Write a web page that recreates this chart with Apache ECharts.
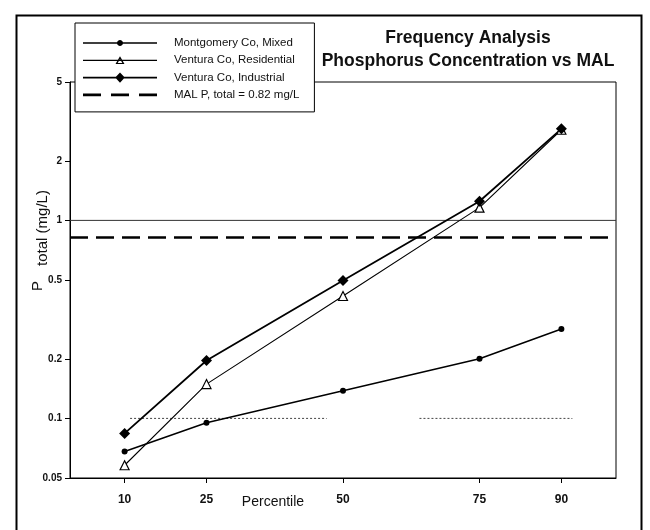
<!DOCTYPE html>
<html>
<head>
<meta charset="utf-8">
<script src="https://cdn.jsdelivr.net/npm/echarts@6/dist/echarts.min.js"></script>
<style>
html,body{margin:0;padding:0;background:#fff;}
#chart{width:650px;height:530px;}
</style>
</head>
<body>
<div id="chart"></div>
<script>
// ---- data ----
var percentiles = [10, 25, 50, 75, 90];
var mixed       = [0.068, 0.095, 0.138, 0.200, 0.283];
var residential = [0.058, 0.149, 0.415, 1.16, 2.87];
var industrial  = [0.084, 0.196, 0.497, 1.25, 2.90];
var malValue = 0.82;
var refValue = 1.0;
var dotValue = 0.1;
var dotSegA = [11, 47];
var dotSegB = [64, 92];
var xRange = [0, 100];
var xTickValues = [10, 25, 50, 75, 90];
var yTickValues = [0.05, 0.1, 0.2, 0.5, 1, 2, 5];
var seriesNames = ['Montgomery Co, Mixed', 'Ventura Co, Residential', 'Ventura Co, Industrial', 'MAL P, total = 0.82 mg/L'];

function pairs(xs, ys){ return xs.map(function(x,i){ return [x, ys[i]]; }); }
function hline(xs, v){ return [[xs[0], v], [xs[1], v]]; }

// legend icon shapes (74 x 12 box)
function polyCircle(cx, cy, r, n){
  var s = '';
  for (var k = 0; k < n; k++){
    var a = 2 * Math.PI * k / n;
    s += (k === 0 ? 'M' : 'L') + (cx + r * Math.cos(a)).toFixed(2) + ',' + (cy + r * Math.sin(a)).toFixed(2);
  }
  return s + 'Z';
}
var BOX = 'M0,0L74,0M0,12L74,12';
var iconMixed = 'path://' + BOX + 'M0,5.3h74v1.4h-74z' + polyCircle(37, 6, 3, 16);
var iconRes = 'path://' + BOX + 'M0,5.4h74v1.2h-74zM37,2L41.5,9.8L32.5,9.8ZM37,4.7L34.7,8.7L39.3,8.7Z';
var iconInd = 'path://' + BOX + 'M0,5.2h74v1.6h-74zM37,0.8L41.8,6L37,11.2L32.2,6Z';
var iconMal = 'path://' + BOX + 'M0,4.6h18v2.8h-18zM28,4.6h18v2.8h-18zM56,4.6h18v2.8h-18z';
var legendIcons = [iconMixed, iconRes, iconInd, iconMal];

var FONT = 'Liberation Sans, Arial, sans-serif';
var chart = echarts.init(document.getElementById('chart'), null, {renderer:'canvas'});
var option = {
  backgroundColor: '#fff',
  animation: false,
  title: {
    text: 'Frequency Analysis\nPhosphorus Concentration vs MAL',
    left: 463, top: 22, textAlign: 'center',
    textStyle: {fontFamily: FONT, fontSize: 17.5, fontWeight: 'bold', color: '#111', lineHeight: 23}
  },
  legend: {
    data: seriesNames.map(function(n, i){
      return {name: n, icon: legendIcons[i], itemStyle: {color: '#000', borderWidth: 0, borderColor: 'transparent'}};
    }),
    orient: 'vertical',
    left: 75, top: 23,
    padding: [14, 15, 11, 8],
    itemWidth: 74, itemHeight: 12, itemGap: 5.3,
    backgroundColor: '#fff',
    borderColor: '#000', borderWidth: 1,
    textStyle: {fontFamily: FONT, fontSize: 11.5, color: '#111', padding: [0,0,0,12]},
    z: 10
  },
  grid: {left: 70, right: 34, top: 82, bottom: 52, show: true, borderColor: '#000', borderWidth: 1, backgroundColor: 'transparent'},
  xAxis: {
    type: 'value', min: xRange[0], max: xRange[1],
    axisLine: {show: true, lineStyle: {color: '#000', width: 1}},
    axisTick: {show: true, customValues: xTickValues, length: 5, lineStyle: {color: '#000'}},
    axisLabel: {customValues: xTickValues, margin: 16, fontFamily: FONT, fontSize: 12, fontWeight: 'bold', color: '#111'},
    splitLine: {show: false}
  },
  yAxis: {
    type: 'log', logBase: 10, min: yTickValues[0], max: yTickValues[yTickValues.length-1],
    axisLine: {show: true, lineStyle: {color: '#000', width: 1}},
    axisTick: {show: true, customValues: yTickValues, length: 5, lineStyle: {color: '#000'}},
    axisLabel: {customValues: yTickValues, margin: 8, fontFamily: FONT, fontSize: 10, fontWeight: 'bold', color: '#111',
      formatter: function(v){ return String(+Number(v).toPrecision(3)); }},
    splitLine: {show: false}
  },
  series: [
    {name: seriesNames[0], type: 'line', data: pairs(percentiles, mixed),
     symbol: 'circle', symbolSize: 6, itemStyle: {color: '#000'}, lineStyle: {color: '#000', width: 1.5}, z: 5},
    {name: seriesNames[1], type: 'line', data: pairs(percentiles, residential),
     symbol: 'triangle', symbolSize: 9, itemStyle: {color: '#fff', borderColor: '#000', borderWidth: 1.2},
     lineStyle: {color: '#000', width: 1.1}, z: 5},
    {name: seriesNames[2], type: 'line', data: pairs(percentiles, industrial),
     symbol: 'diamond', symbolSize: 11, itemStyle: {color: '#000'}, lineStyle: {color: '#000', width: 1.8}, z: 5},
    {name: seriesNames[3], type: 'line', data: hline(xRange, malValue),
     symbol: 'none', lineStyle: {color: '#000', width: 2.5, type: [18, 8]}, itemStyle: {color: '#000'}, z: 4},
    {name: 'ref1', type: 'line', data: hline(xRange, refValue), symbol: 'none', silent: true,
     lineStyle: {color: '#333', width: 1}, z: 3},
    {name: 'dotA', type: 'line', data: hline(dotSegA, dotValue), symbol: 'none', silent: true,
     lineStyle: {color: '#444', width: 1, type: [2, 2]}, z: 3},
    {name: 'dotB', type: 'line', data: hline(dotSegB, dotValue), symbol: 'none', silent: true,
     lineStyle: {color: '#444', width: 1, type: [2, 2]}, z: 3}
  ],
  graphic: [
    {type: 'rect', left: 14, top: 13, z: 0, silent: true,
     shape: {width: 625, height: 530}, style: {fill: 'none', stroke: '#000', lineWidth: 2}},
    {type: 'text', x: 273, y: 502, z: 5, silent: true,
     style: {text: 'Percentile', fontFamily: FONT, fontSize: 14, fill: '#111', textAlign: 'center', textVerticalAlign: 'middle'}},
    {type: 'text', x: 43, y: 228, rotation: Math.PI/2, z: 5, silent: true,
     style: {text: 'total (mg/L)', fontFamily: FONT, fontSize: 15, fill: '#111', textAlign: 'center', textVerticalAlign: 'middle'}},
    {type: 'text', x: 38, y: 286, rotation: Math.PI/2, z: 5, silent: true,
     style: {text: 'P', fontFamily: FONT, fontSize: 15, fill: '#111', textAlign: 'center', textVerticalAlign: 'middle'}}
  ]
};
chart.setOption(option);
</script>
</body>
</html>
